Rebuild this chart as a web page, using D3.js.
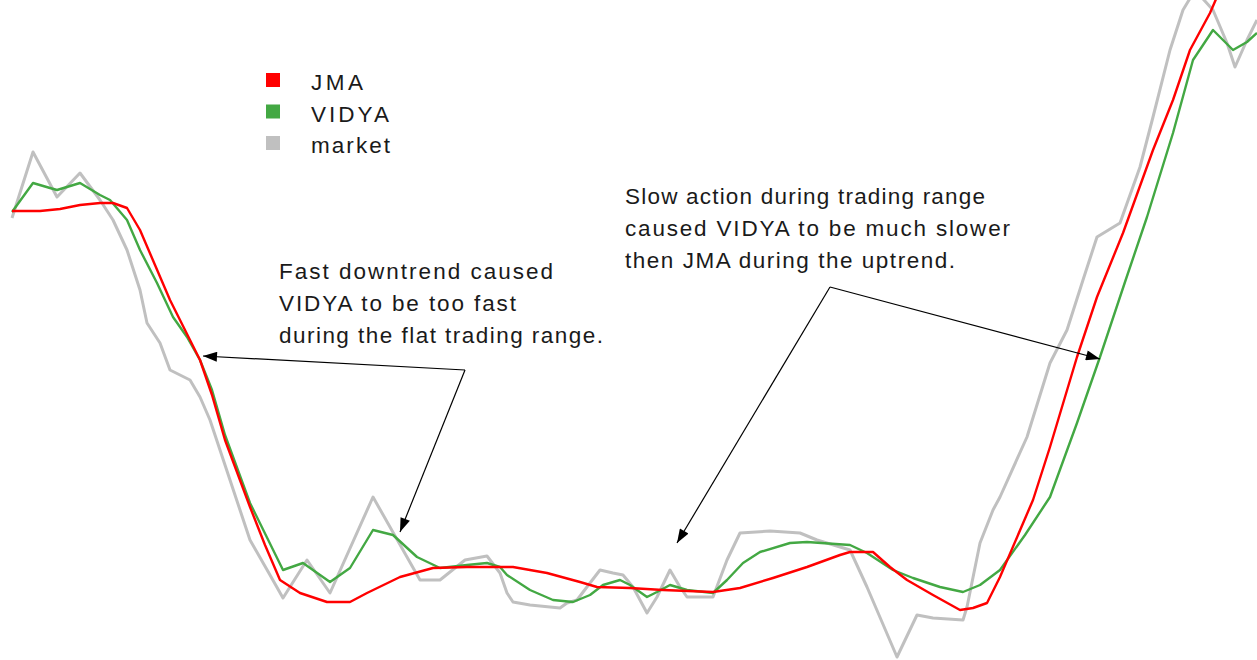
<!DOCTYPE html>
<html>
<head>
<meta charset="utf-8">
<script src="https://cdn.jsdelivr.net/npm/d3@7"></script>
<style>
  html, body { margin: 0; padding: 0; background: #fff; }
  svg { display: block; }
  text { font-family: "Liberation Sans", Arial, sans-serif; fill: #1a1a1a; }
</style>
</head>
<body>
<svg id="chart" width="1257" height="660"></svg>
<script>
// series are [bar, price] pairs
var market = [
  [2.4,88.4],[6.6,101.6],[11.4,92.6],[16,97.4],[20,92],[22.6,88],[25.4,82],[28,74],
  [29.4,67.4],[32,63.4],[34,58],[38,56],[40,52.6],[42,48],[46,36],[50,24],[54,17],
  [56.6,12.4],[61.4,20],[66,13.4],[74.6,32.6],[84,16],[88,16],[93,20],[97.4,20.8],
  [100,17.4],[101.4,13.4],[102.6,11.6],[106,11],[112,10.4],[113.4,11.4],[115.4,12],
  [118,15.4],[120,18],[122.6,17.4],[124.6,17],[126.6,14.6],[129.4,9.4],[131.4,12.6],
  [134,18],[136,14.6],[137.4,12.6],[142.6,12.6],[145.4,20],[148,25.4],[154,25.8],
  [160,25.4],[163.4,24],[170,22],[173.4,14.6],[179.4,0.6],[183.4,9],[186.6,8.4],
  [192.6,8],[193.4,10.6],[196,23.4],[198.6,30],[200,32.6],[205.4,44.6],[210,59.4],
  [213.4,66],[216.6,76],[219.4,84.6],[224,87.4],[228,98.6],[230.6,108.6],[234,122],
  [236.6,130],[239,134],[242.6,130],[245.4,123.4],[247,118.6],[249.4,124],[251.4,128]
];
var jma = [
  [2.4,89.8],[8,89.8],[12,90.2],[16,91],[20,91.4],[22.6,91.4],[25.4,90.4],[28,86],
  [31,79],[34,72],[37,66],[40,60],[42.4,53],[45,44],[50,30.6],[53,23],[56,16],
  [60,13.4],[65.4,11.6],[70,11.6],[73.4,13.4],[80,16.6],[86.6,18.4],[93.4,18.6],
  [102.6,18.6],[109.4,17.4],[116,15.6],[119.4,14.6],[126,14.4],[132.6,14],[142.6,13.6],
  [148,14.4],[154.6,16.4],[161.4,18.6],[168,21],[170,21.6],[174.6,21.6],[178,18.6],
  [181.4,16],[186.6,13],[192,10],[194.6,10.4],[197.4,11.4],[200,16.6],[206.6,32],
  [210,42.6],[215.4,60.6],[219.4,72.6],[224.6,85.4],[230.6,102],[234.6,112],[238,122],
  [242,129.4],[244,134]
];
var vidya = [
  [2.4,89.6],[6.6,95.4],[10,94.4],[11.4,94],[16,95.4],[20,93],[22,92],[25.4,88],
  [28,82],[31.4,75.4],[34.6,68.6],[37.4,64.6],[40,60],[42.4,54],[45,45],[50,31.4],
  [56.6,18],[60.6,19.4],[66,15.6],[70,18.4],[74.6,26],[78.6,25],[83.4,20.6],[88,18.4],
  [93.4,19],[97.4,19.4],[100,18.6],[101.4,17],[106,14],[110.6,12],[114.6,11.6],[118,13],
  [120.6,15],[124,16],[126,15],[129.4,12.6],[131.4,13.6],[134,15],[137.4,14],[142.6,13.4],
  [145.4,16],[148.6,19.4],[152,21.6],[158,23.4],[161.4,23.6],[170,23],[173.4,21.4],
  [178.6,18],[182.6,16.4],[188,14.6],[192.6,13.6],[196,15],[200,18],[205,25],[210,32.6],
  [215.4,47.4],[220,60.6],[225,75.6],[229.4,88.6],[234.6,105.4],[238.6,120],[242.6,126],
  [246.6,122],[249.4,123.6],[251.4,125.4]
];

var seriesNames = ['JMA', 'VIDYA', 'market'];
var seriesColors = ['#ff0000', '#43a843', '#c0c0c0'];

var note1 = ['Fast downtrend caused', 'VIDYA to be too fast', 'during the flat trading range.'];
var note2 = ['Slow action during trading range', 'caused VIDYA to be much slower', 'then JMA during the uptrend.'];
// arrow start and tips, in [bar, price]
var arrows1 = { from: [93, 58], to: [[40.6, 60.8], [80, 25.6]] };
var arrows2 = { from: [166, 74.6], to: [[135.4, 23.4], [220, 60.2]] };

var width = 1257, height = 660;
var svg = d3.select('#chart');

var x = d3.scaleLinear().domain([0, 251.4]).range([0, width]);
var y = d3.scaleLinear().domain([0, 132]).range([height, 0]);

var line = d3.line()
  .x(function(d) { return x(d[0]); })
  .y(function(d) { return y(d[1]); });

svg.append('defs').append('clipPath').attr('id', 'plot')
  .append('rect').attr('width', width).attr('height', height);

svg.append('defs').append('marker')
  .attr('id', 'head')
  .attr('viewBox', '0 0 14 10')
  .attr('refX', 14).attr('refY', 5)
  .attr('markerUnits', 'userSpaceOnUse')
  .attr('markerWidth', 15).attr('markerHeight', 10)
  .attr('orient', 'auto')
  .append('path').attr('d', 'M0,0 L14,5 L0,10 Z').attr('fill', '#000');

var lines = svg.append('g').attr('clip-path', 'url(#plot)');

// draw back to front: market, VIDYA, JMA
[[market, 2, 3], [vidya, 1, 2.4], [jma, 0, 2.4]].forEach(function(s) {
  lines.append('path')
    .datum(s[0])
    .attr('fill', 'none')
    .attr('stroke', seriesColors[s[1]])
    .attr('stroke-width', s[2])
    .attr('stroke-linejoin', 'round')
    .attr('d', line);
});

// legend
var legend = svg.append('g').attr('transform', 'translate(266,73)');
var legendWidths = [52, 78, 79];
seriesNames.forEach(function(name, i) {
  var g = legend.append('g').attr('transform', 'translate(0,' + (i * 31.5) + ')');
  g.append('rect').attr('width', 14).attr('height', 14).attr('fill', seriesColors[i]);
  g.append('text').attr('x', 45).attr('y', 17)
    .attr('font-size', 22.5)
    .attr('textLength', legendWidths[i]).attr('lengthAdjust', 'spacing')
    .text(name);
});

function note(lines, left, top, widths) {
  var g = svg.append('g');
  lines.forEach(function(t, i) {
    g.append('text').attr('x', left).attr('y', top + i * 32)
      .attr('font-size', 22.5)
      .attr('textLength', widths[i]).attr('lengthAdjust', 'spacing')
      .text(t);
  });
}
note(note1, 279, 279, [274, 237, 324]);
note(note2, 625, 204, [360, 385, 330]);

function arrows(a) {
  a.to.forEach(function(t) {
    svg.append('line')
      .attr('x1', x(a.from[0])).attr('y1', y(a.from[1]))
      .attr('x2', x(t[0])).attr('y2', y(t[1]))
      .attr('stroke', '#000').attr('stroke-width', 1.2)
      .attr('marker-end', 'url(#head)');
  });
}
arrows(arrows1);
arrows(arrows2);
</script>
</body>
</html>
